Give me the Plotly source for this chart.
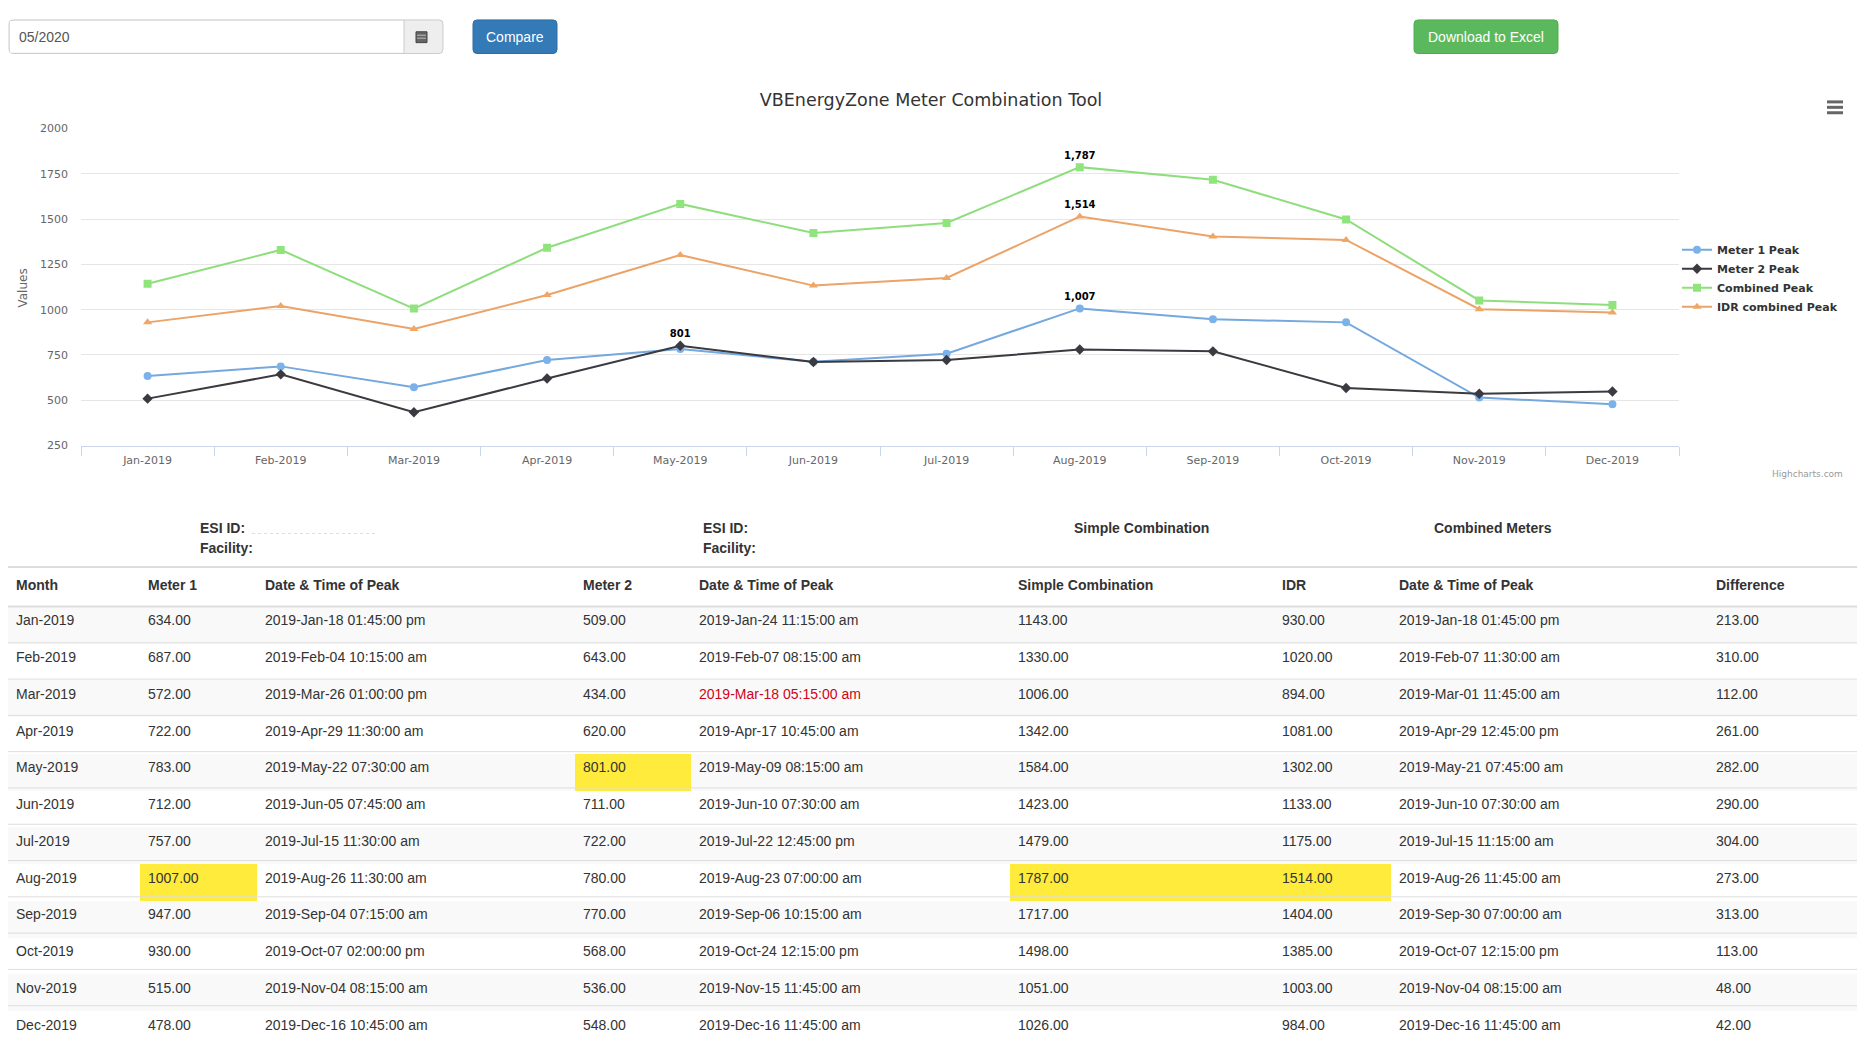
import plotly.graph_objects as go

# ---- data ----
months = ["Jan-2019", "Feb-2019", "Mar-2019", "Apr-2019", "May-2019", "Jun-2019",
          "Jul-2019", "Aug-2019", "Sep-2019", "Oct-2019", "Nov-2019", "Dec-2019"]
meter1 = [634, 687, 572, 722, 783, 712, 757, 1007, 947, 930, 515, 478]
meter1_time = ["2019-Jan-18 01:45:00 pm", "2019-Feb-04 10:15:00 am", "2019-Mar-26 01:00:00 pm",
               "2019-Apr-29 11:30:00 am", "2019-May-22 07:30:00 am", "2019-Jun-05 07:45:00 am",
               "2019-Jul-15 11:30:00 am", "2019-Aug-26 11:30:00 am", "2019-Sep-04 07:15:00 am",
               "2019-Oct-07 02:00:00 pm", "2019-Nov-04 08:15:00 am", "2019-Dec-16 10:45:00 am"]
meter2 = [509, 643, 434, 620, 801, 711, 722, 780, 770, 568, 536, 548]
meter2_time = ["2019-Jan-24 11:15:00 am", "2019-Feb-07 08:15:00 am", "2019-Mar-18 05:15:00 am",
               "2019-Apr-17 10:45:00 am", "2019-May-09 08:15:00 am", "2019-Jun-10 07:30:00 am",
               "2019-Jul-22 12:45:00 pm", "2019-Aug-23 07:00:00 am", "2019-Sep-06 10:15:00 am",
               "2019-Oct-24 12:15:00 pm", "2019-Nov-15 11:45:00 am", "2019-Dec-16 11:45:00 am"]
simple_comb = [1143, 1330, 1006, 1342, 1584, 1423, 1479, 1787, 1717, 1498, 1051, 1026]
idr = [930, 1020, 894, 1081, 1302, 1133, 1175, 1514, 1404, 1385, 1003, 984]
idr_time = ["2019-Jan-18 01:45:00 pm", "2019-Feb-07 11:30:00 am", "2019-Mar-01 11:45:00 am",
            "2019-Apr-29 12:45:00 pm", "2019-May-21 07:45:00 am", "2019-Jun-10 07:30:00 am",
            "2019-Jul-15 11:15:00 am", "2019-Aug-26 11:45:00 am", "2019-Sep-30 07:00:00 am",
            "2019-Oct-07 12:15:00 pm", "2019-Nov-04 08:15:00 am", "2019-Dec-16 11:45:00 am"]
difference = [213, 310, 112, 261, 282, 290, 304, 273, 313, 113, 48, 42]

headers = ["Month", "Meter 1", "Date & Time of Peak", "Meter 2", "Date & Time of Peak",
           "Simple Combination", "IDR", "Date & Time of Peak", "Difference"]
flagged = [(4, 2)]  # (column, row) shown in red

# ---- page geometry (screenshot pixels, body has 8px margin) ----
W, H = 1849, 1041


def px(x):
    return (x - 8) / W


def py(y):
    return 1 - (y - 8) / H


def rrect(x0, y0, x1, y1, r=4):
    a, b, c, d = px(x0), py(y0), px(x1), py(y1)
    rx, ry = r / W, r / H
    return (f"M{a + rx},{b} L{c - rx},{b} Q{c},{b} {c},{b - ry} L{c},{d + ry} Q{c},{d} {c - rx},{d} "
            f"L{a + rx},{d} Q{a},{d} {a},{d + ry} L{a},{b - ry} Q{a},{b} {a + rx},{b} Z")


chart_font = "DejaVu Sans"
page_font = "Liberation Sans"

fig = go.Figure()

series = [
    ("Meter 1 Peak", meter1, "#74a8de", "#7cb2ea", "circle"),
    ("Meter 2 Peak", meter2, "#3a3a40", "#3a3a40", "diamond"),
    ("Combined Peak", simple_comb, "#8fde7d", "#8fe57c", "square"),
    ("IDR combined Peak", idr, "#eba368", "#f0a664", "triangle-up"),
]
for name, vals, lcolor, mcolor, symbol in series:
    fig.add_trace(go.Scatter(
        x=months, y=vals, name=name, mode="lines+markers",
        line=dict(color=lcolor, width=2),
        marker=dict(color=mcolor, symbol=symbol, size=8),
    ))
    i = vals.index(max(vals))
    fig.add_trace(go.Scatter(
        x=[months[i]], y=[vals[i]], mode="markers+text", showlegend=False,
        text=[f"{vals[i]:,}"], textposition="top center",
        marker=dict(size=8, color="rgba(0,0,0,0)"), hoverinfo="skip",
        textfont=dict(family=chart_font, size=10, color="#000", weight="bold"),
    ))

# ---- table ----
cols = [months,
        [f"{v:.2f}" for v in meter1], meter1_time,
        [f"{v:.2f}" for v in meter2], meter2_time,
        [f"{v:.2f}" for v in simple_comb],
        [f"{v:.2f}" for v in idr], idr_time,
        [f"{v:.2f}" for v in difference]]
stripe = ["#f9f9f9" if r % 2 == 0 else "#ffffff" for r in range(len(months))]
fills = [list(stripe) for _ in cols]
for c, vals in [(1, meter1), (3, meter2), (5, simple_comb), (6, idr)]:
    fills[c][vals.index(max(vals))] = "#ffeb3b"
font_colors = [["#333333"] * len(months) for _ in cols]
for c, r in flagged:
    font_colors[c][r] = "#d0021b"

table_top, head_h, row_h = 570, 38, 36.75
table_bottom = table_top + head_h + row_h * len(months)
fig.add_trace(go.Table(
    domain=dict(x=[0, 1], y=[max(0, py(table_bottom)), py(table_top)]),
    columnwidth=[132, 117, 318, 116, 319, 264, 117, 317, 149],
    header=dict(values=[f"<b>{h}</b>" for h in headers], align="left", height=head_h,
                fill_color="white", line=dict(width=0),
                font=dict(family=page_font, size=14, color="#333")),
    cells=dict(values=cols, align="left", height=row_h, fill_color=fills,
               line=dict(width=0),
               font=dict(family=page_font, size=14, color=font_colors)),
))

P = dict(xref="paper", yref="paper")
shapes = []
# table rules
shapes.append(dict(type="line", **P, x0=0, x1=1, y0=py(568), y1=py(568),
                   line=dict(color="#dddddd", width=2)))
shapes.append(dict(type="line", **P, x0=0, x1=1,
                   y0=py(table_top + head_h), y1=py(table_top + head_h),
                   line=dict(color="#dddddd", width=2)))
for k in range(1, len(months)):
    yy = py(table_top + head_h + row_h * k)
    shapes.append(dict(type="line", **P, x0=0, x1=1, y0=yy, y1=yy,
                       line=dict(color="#dddddd", width=1)))
shapes.append(dict(type="line", **P, x0=px(252), x1=px(378), y0=py(534), y1=py(534),
                   line=dict(color="#dcdcdc", width=1, dash="dot")))

# date input + buttons (top bar)
ty, by = 14, 48
cy = (ty + by) / 2
shapes.append(dict(type="path", **P, path=rrect(9, ty, 443, by), fillcolor="#eeeeee",
                   line=dict(color="#cccccc", width=1)))
shapes.append(dict(type="rect", **P, x0=px(10), x1=px(404), y0=py(by - 1), y1=py(ty + 1),
                   fillcolor="white", line=dict(width=0)))
shapes.append(dict(type="line", **P, x0=px(404), x1=px(404), y0=py(ty), y1=py(by),
                   line=dict(color="#cccccc", width=1)))
shapes.append(dict(type="rect", **P, x0=px(416), x1=px(427), y0=py(cy + 6), y1=py(cy - 5),
                   fillcolor="#666666", line=dict(color="#444444", width=1)))
for gy in (cy - 1.5, cy + 1.5):
    shapes.append(dict(type="line", **P, x0=px(417), x1=px(426), y0=py(gy), y1=py(gy),
                       line=dict(color="#bbbbbb", width=1)))
shapes.append(dict(type="path", **P, path=rrect(473, ty, 557, by), fillcolor="#337ab7",
                   line=dict(color="#2e6da4", width=1)))
shapes.append(dict(type="path", **P, path=rrect(1414, ty, 1558, by), fillcolor="#5cb85c",
                   line=dict(color="#4cae4c", width=1)))
# export menu icon
for hy in (97, 102.5, 108):
    shapes.append(dict(type="line", **P, x0=px(1827), x1=px(1843), y0=py(hy), y1=py(hy),
                       line=dict(color="#666666", width=3)))

ann = []
ann.append(dict(text="05/2020", x=px(17), y=py(cy), xanchor="left", yanchor="middle",
                font=dict(family=page_font, size=14, color="#555")))
ann.append(dict(text="Compare", x=px(515), y=py(cy), xanchor="center", yanchor="middle",
                font=dict(family=page_font, size=14, color="white")))
ann.append(dict(text="Download to Excel", x=px(1486), y=py(cy), xanchor="center", yanchor="middle",
                font=dict(family=page_font, size=14, color="white")))
ann.append(dict(text="Values", x=px(23), y=py(286), textangle=-90, xanchor="center", yanchor="middle",
                font=dict(family=chart_font, size=12, color="#666")))
ann.append(dict(text="Highcharts.com", x=px(1845), y=py(474), xanchor="right", yanchor="middle",
                font=dict(family=chart_font, size=9, color="#999")))
for x0, label in [(198, "ESI ID:"), (701, "ESI ID:")]:
    ann.append(dict(text=f"<b>{label}</b>", x=px(x0), y=py(529), xanchor="left", yanchor="middle",
                    font=dict(family=page_font, size=14, color="#333")))
    ann.append(dict(text="<b>Facility:</b>", x=px(x0), y=py(549), xanchor="left", yanchor="middle",
                    font=dict(family=page_font, size=14, color="#333")))
for xc, label in [(1141, "Simple Combination"), (1493, "Combined Meters")]:
    ann.append(dict(text=f"<b>{label}</b>", x=px(xc), y=py(529), xanchor="center", yanchor="middle",
                    font=dict(family=page_font, size=14, color="#333")))
for a in ann:
    a.update(xref="paper", yref="paper", showarrow=False)

fig.update_layout(
    width=W, height=H, autosize=False,
    margin=dict(l=0, r=0, t=0, b=0),
    paper_bgcolor="white", plot_bgcolor="white",
    title=dict(text="VBEnergyZone Meter Combination Tool", x=px(931), y=py(95),
               xanchor="center", yanchor="middle", xref="paper", yref="paper",
               font=dict(family=chart_font, size=17.5, color="#333")),
    xaxis=dict(domain=[px(81), px(1679)], type="category", tickson="boundaries",
               range=[-0.5, len(months) - 0.5],
               ticks="outside", ticklen=9, tickcolor="#ccd6eb", showline=True,
               linecolor="#ccd6eb", showgrid=False, fixedrange=True, ticklabelstandoff=4,
               tickfont=dict(family=chart_font, size=11, color="#666")),
    yaxis=dict(domain=[py(445), py(124)], range=[250, 2000], tick0=250, dtick=250,
               showgrid=True, gridcolor="#e6e6e6", zeroline=False, showline=False,
               ticklabelstandoff=12, fixedrange=True,
               tickfont=dict(family=chart_font, size=11, color="#666")),
    legend=dict(x=px(1677), y=py(232), xanchor="left", yanchor="top", itemwidth=30,
                bgcolor="rgba(0,0,0,0)", tracegroupgap=0,
                font=dict(family=chart_font, size=11, color="#333", weight="bold")),
    shapes=shapes, annotations=ann,
)

fig.write_html("out.html", config={"displayModeBar": False})
